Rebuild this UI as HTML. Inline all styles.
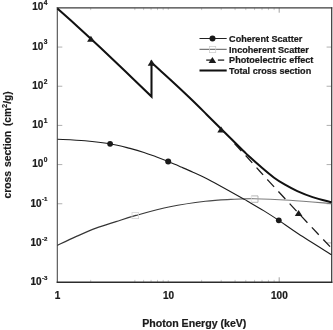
<!DOCTYPE html>
<html><head><meta charset="utf-8"><title>Photon cross section</title>
<style>
html,body{margin:0;padding:0;background:#fff;}
svg{display:block;will-change:transform;}
text{font-family:"Liberation Sans",sans-serif;font-weight:bold;fill:#1a1a1a;stroke:#1a1a1a;stroke-width:0.22px;}
.t{font-size:10px;}
.s{font-size:6.5px;}
.a{font-size:10.6px;}
.l{font-size:9.1px;}
</style></head><body>
<svg width="333" height="330" viewBox="0 0 333 330">
<rect width="333" height="330" fill="#fff"/>
<g stroke="#b4b4b4" stroke-width="0.7" fill="none">
<line x1="90.70" y1="282.09" x2="90.70" y2="279.89"/>
<line x1="90.70" y1="7.90" x2="90.70" y2="10.10"/>
<line x1="134.85" y1="282.09" x2="134.85" y2="279.89"/>
<line x1="134.85" y1="7.90" x2="134.85" y2="10.10"/>
<line x1="143.64" y1="282.09" x2="143.64" y2="279.89"/>
<line x1="143.64" y1="7.90" x2="143.64" y2="10.10"/>
<line x1="151.06" y1="282.09" x2="151.06" y2="279.89"/>
<line x1="151.06" y1="7.90" x2="151.06" y2="10.10"/>
<line x1="157.50" y1="282.09" x2="157.50" y2="279.89"/>
<line x1="157.50" y1="7.90" x2="157.50" y2="10.10"/>
<line x1="163.17" y1="282.09" x2="163.17" y2="279.89"/>
<line x1="163.17" y1="7.90" x2="163.17" y2="10.10"/>
<line x1="168.25" y1="282.09" x2="168.25" y2="280.09"/>
<line x1="168.25" y1="7.90" x2="168.25" y2="9.90"/>
<line x1="201.65" y1="282.09" x2="201.65" y2="279.89"/>
<line x1="201.65" y1="7.90" x2="201.65" y2="10.10"/>
<line x1="221.19" y1="282.09" x2="221.19" y2="279.89"/>
<line x1="221.19" y1="7.90" x2="221.19" y2="10.10"/>
<line x1="235.05" y1="282.09" x2="235.05" y2="279.89"/>
<line x1="235.05" y1="7.90" x2="235.05" y2="10.10"/>
<line x1="245.80" y1="282.09" x2="245.80" y2="279.89"/>
<line x1="245.80" y1="7.90" x2="245.80" y2="10.10"/>
<line x1="254.59" y1="282.09" x2="254.59" y2="279.89"/>
<line x1="254.59" y1="7.90" x2="254.59" y2="10.10"/>
<line x1="262.01" y1="282.09" x2="262.01" y2="279.89"/>
<line x1="262.01" y1="7.90" x2="262.01" y2="10.10"/>
<line x1="268.45" y1="282.09" x2="268.45" y2="279.89"/>
<line x1="268.45" y1="7.90" x2="268.45" y2="10.10"/>
<line x1="274.12" y1="282.09" x2="274.12" y2="279.89"/>
<line x1="274.12" y1="7.90" x2="274.12" y2="10.10"/>
<line x1="279.20" y1="282.09" x2="279.20" y2="277.29" stroke="#8a8a8a" stroke-width="0.8"/>
<line x1="279.20" y1="7.90" x2="279.20" y2="12.70" stroke="#8a8a8a" stroke-width="0.8"/>
<line x1="331.60" y1="242.92" x2="326.60" y2="242.92" stroke="#9c9c9c" stroke-width="0.8"/>
<line x1="57.30" y1="203.75" x2="62.30" y2="203.75" stroke="#9c9c9c" stroke-width="0.8"/>
<line x1="331.60" y1="203.75" x2="326.60" y2="203.75" stroke="#9c9c9c" stroke-width="0.8"/>
<line x1="57.30" y1="164.58" x2="62.30" y2="164.58" stroke="#9c9c9c" stroke-width="0.8"/>
<line x1="331.60" y1="164.58" x2="326.60" y2="164.58" stroke="#9c9c9c" stroke-width="0.8"/>
<line x1="57.30" y1="125.41" x2="62.30" y2="125.41" stroke="#9c9c9c" stroke-width="0.8"/>
<line x1="331.60" y1="125.41" x2="326.60" y2="125.41" stroke="#9c9c9c" stroke-width="0.8"/>
<line x1="57.30" y1="86.24" x2="62.30" y2="86.24" stroke="#9c9c9c" stroke-width="0.8"/>
<line x1="331.60" y1="86.24" x2="326.60" y2="86.24" stroke="#9c9c9c" stroke-width="0.8"/>
<line x1="57.30" y1="47.07" x2="62.30" y2="47.07" stroke="#9c9c9c" stroke-width="0.8"/>
<line x1="331.60" y1="47.07" x2="326.60" y2="47.07" stroke="#9c9c9c" stroke-width="0.8"/>
</g>
<g fill="none" stroke-linecap="square">
<line x1="57.3" y1="7.85" x2="331.7" y2="7.85" stroke="#3c3c3c" stroke-width="1.1"/>
<line x1="57.3" y1="7.85" x2="57.3" y2="282.25" stroke="#444" stroke-width="1.05"/>
<line x1="331.7" y1="7.85" x2="331.7" y2="282.25" stroke="#3a3a3a" stroke-width="1.25"/>
<line x1="57.3" y1="282.25" x2="331.7" y2="282.25" stroke="#2c2c2c" stroke-width="1.3"/>
</g>
<g fill="none" stroke-linejoin="miter" stroke-linecap="butt">
<linearGradient id="gi" gradientUnits="userSpaceOnUse" x1="57" y1="0" x2="332" y2="0"><stop offset="0" stop-color="#333"/><stop offset="0.5" stop-color="#3a3a3a"/><stop offset="0.63" stop-color="#585858"/><stop offset="0.7" stop-color="#7c7c7c"/><stop offset="1" stop-color="#7c7c7c"/></linearGradient>
<path d="M57.30 245.40 C60.32 243.98 68.95 239.78 75.40 236.90 C81.85 234.02 89.23 230.65 96.00 228.10 C102.77 225.55 109.33 223.72 116.00 221.60 C122.67 219.48 127.00 217.87 136.00 215.40 C145.00 212.93 158.43 209.15 170.00 206.80 C181.57 204.45 195.25 202.53 205.40 201.30 C215.55 200.07 222.80 199.83 230.90 199.40 C239.00 198.97 244.15 198.55 254.00 198.70 C263.85 198.85 277.08 199.48 290.00 200.30 C302.92 201.12 324.58 203.05 331.50 203.60" stroke="url(#gi)" stroke-width="1.15"/>
<path d="M57.50 139.30 C62.08 139.55 76.25 140.05 85.00 140.80 C93.75 141.55 102.50 142.53 110.00 143.80 C117.50 145.07 124.33 146.97 130.00 148.40 C135.67 149.83 139.67 151.00 144.00 152.40 C148.33 153.80 151.97 155.27 156.00 156.80 C160.03 158.33 164.03 159.90 168.20 161.60 C172.37 163.30 176.87 165.23 181.00 167.00 C185.13 168.77 188.93 170.38 193.00 172.20 C197.07 174.02 201.90 176.17 205.40 177.90 C208.90 179.63 207.85 179.22 214.00 182.60 C220.15 185.98 236.47 194.97 242.30 198.20 C248.13 201.43 245.38 199.88 249.00 202.00 C252.62 204.12 259.03 207.83 264.00 210.90 C268.97 213.97 273.03 216.55 278.80 220.40 C284.57 224.25 289.82 228.28 298.60 234.00 C307.38 239.72 326.02 251.25 331.50 254.70" stroke="#1c1c1c" stroke-width="1.1"/>
<path d="M234.50 143.60 C236.40 145.63 242.18 151.75 245.90 155.80 C249.62 159.85 252.98 163.68 256.80 167.90 C260.62 172.12 261.27 172.93 268.80 181.10 C276.33 189.27 291.55 205.72 302.00 216.90 C312.45 228.08 326.58 242.98 331.50 248.20" stroke="#1c1c1c" stroke-width="1.3" stroke-dasharray="10 6.3"/>
<path d="M57.40 8.40 C60.83 11.50 70.90 20.52 78.00 27.00 C85.10 33.48 92.17 39.97 100.00 47.30 C107.83 54.63 116.42 62.78 125.00 71.00 C133.58 79.22 147.08 92.33 151.50 96.60 L151.50 62.60 C152.92 63.88 156.08 66.73 160.00 70.30 C163.92 73.87 169.67 79.05 175.00 84.00 C180.33 88.95 186.73 94.93 192.00 100.00 C197.27 105.07 201.10 108.93 206.60 114.40 C212.10 119.87 218.90 126.75 225.00 132.80 C231.10 138.85 239.20 146.78 243.20 150.70 C247.20 154.62 245.97 153.53 249.00 156.30 C252.03 159.07 257.22 163.73 261.40 167.30 C265.58 170.87 270.17 174.80 274.10 177.70 C278.03 180.60 281.13 182.47 285.00 184.70 C288.87 186.93 292.70 189.03 297.30 191.10 C301.90 193.17 306.90 195.23 312.60 197.10 C318.30 198.97 328.35 201.43 331.50 202.30" stroke="#111" stroke-width="2.05"/>
</g>
<g fill="#1a1a1a">
<circle cx="110.1" cy="143.8" r="2.9"/>
<circle cx="168.2" cy="161.6" r="3"/>
<circle cx="278.8" cy="220.3" r="2.9"/>
<polygon points="90.90,35.70 87.10,41.80 94.70,41.80"/>
<polygon points="151.50,59.60 147.70,65.70 155.30,65.70"/>
<polygon points="221.10,126.40 217.30,132.50 224.90,132.50"/>
<polygon points="298.60,210.00 294.80,216.10 302.40,216.10"/>
</g>
<g fill="none" stroke="#b5b5b5" stroke-width="0.8">
<rect x="132" y="212.6" width="6.6" height="6" stroke="#d4d4d4"/>
<path d="M251.3 195.9H258V202.3H251.3" stroke="#a4a4a4"/><path d="M251.3 195.9V202.3" stroke="#dcdcdc"/>
</g>
<!-- legend -->
<g fill="none">
<line x1="199.5" y1="38.5" x2="226.7" y2="38.5" stroke="#222" stroke-width="1"/>
<line x1="199.5" y1="49.3" x2="226.7" y2="49.3" stroke="#444" stroke-width="0.9"/>
<rect x="209.4" y="46.4" width="6.3" height="6.2" stroke="#d0d0d0" stroke-width="0.8"/>
<line x1="206.2" y1="60.1" x2="211" y2="60.1" stroke="#222" stroke-width="1.3"/>
<line x1="217.9" y1="60.1" x2="224.2" y2="60.1" stroke="#222" stroke-width="1.3"/>
<line x1="199.5" y1="70.5" x2="226.7" y2="70.5" stroke="#111" stroke-width="2.05"/>
</g>
<g fill="#1a1a1a">
<circle cx="212.5" cy="38.5" r="3"/>
<polygon points="212.40,56.90 208.60,63.00 216.20,63.00"/>
</g>
<text transform="translate(229.1,42.1) scale(1,1.06)" class="l">Coherent Scatter</text>
<text transform="translate(229.1,52.8) scale(1,1.06)" class="l">Incoherent Scatter</text>
<text transform="translate(229.1,63.4) scale(1,1.06)" class="l">Photoelectric effect</text>
<text transform="translate(229.1,74.0) scale(1,1.06)" class="l">Total cross section</text>
<text x="47.5" y="285.22" text-anchor="end" class="t">10<tspan dx="0.5" dy="-5.4" font-size="6.1">-3</tspan></text>
<text x="47.5" y="245.96" text-anchor="end" class="t">10<tspan dx="0.5" dy="-5.4" font-size="6.1">-2</tspan></text>
<text x="47.5" y="206.70" text-anchor="end" class="t">10<tspan dx="0.5" dy="-5.4" font-size="6.1">-1</tspan></text>
<text x="47.5" y="167.44" text-anchor="end" class="t">10<tspan dx="0.5" dy="-5.4" font-size="6.6">0</tspan></text>
<text x="47.5" y="128.18" text-anchor="end" class="t">10<tspan dx="0.5" dy="-5.4" font-size="6.6">1</tspan></text>
<text x="47.5" y="88.92" text-anchor="end" class="t">10<tspan dx="0.5" dy="-5.4" font-size="6.6">2</tspan></text>
<text x="47.5" y="49.66" text-anchor="end" class="t">10<tspan dx="0.5" dy="-5.4" font-size="6.6">3</tspan></text>
<text x="47.5" y="10.40" text-anchor="end" class="t">10<tspan dx="0.5" dy="-5.4" font-size="6.6">4</tspan></text>
<text x="57.5" y="299" text-anchor="middle" class="t">1</text>
<text x="168.5" y="299" text-anchor="middle" class="t">10</text>
<text x="279.4" y="299" text-anchor="middle" class="t">100</text>
<text x="194.3" y="326.6" text-anchor="middle" class="a">Photon Energy (keV)</text>
<text transform="translate(10.9,198.5) rotate(-90)" style="font-size:10.35px;word-spacing:1px;stroke-width:0.15px">cross section</text>
<text transform="translate(10.9,91.4) rotate(-90)" text-anchor="end" style="font-size:10.2px;stroke-width:0.15px">(cm<tspan dy="-4.4" font-size="7.4">2</tspan><tspan dy="4.4">/g)</tspan></text>
</svg>
</body></html>
